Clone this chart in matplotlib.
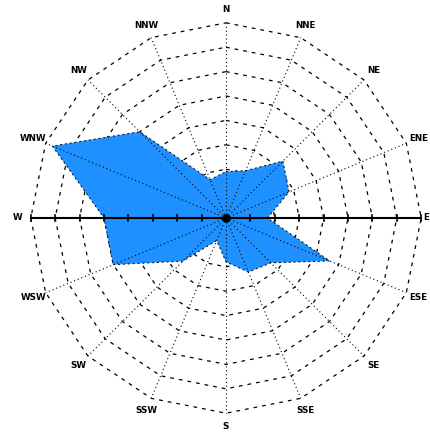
import numpy as np
import matplotlib
matplotlib.use("Agg")
import matplotlib.pyplot as plt

# ~~~~~~~~ data ~~~~~~~~
directions = ["N", "NNE", "NE", "ENE", "E", "ESE", "SE", "SSE",
              "S", "SSW", "SW", "WSW", "W", "WNW", "NW", "NNW"]
# in ring units (8 rings)
frequency = [1.9, 2.1, 3.3, 2.8, 1.7, 4.6, 2.6, 2.4,
             1.8, 1.0, 2.5, 5.0, 5.0, 7.7, 5.0, 1.7]
rings = [1, 2, 3, 4, 5, 6, 7, 8]

# ~~~~~~~~ figure ~~~~~~~~
fig = plt.figure(figsize=(4.30, 4.37), dpi=100)
ax = fig.add_axes([0, 0, 1, 1])
xmax = 8.361
ax.set_xlim(-9.262, xmax)
ax.set_ylim(-8.975, 8.934)
ax.axis("off")

bearing = np.deg2rad(np.arange(len(directions)) * 360.0 / len(directions))
sx, sy = np.sin(bearing), np.cos(bearing)


def closed(v):
    return np.append(v, v[0])


# polygon rings
for r in rings:
    ax.plot(closed(r * sx), closed(r * sy), color="k", lw=0.9,
            ls=(0, (3, 4)), zorder=1)

# the rose itself
f = np.array(frequency)
ax.fill(f * sx, f * sy, color="#1E90FF", lw=0, zorder=2)
ax.plot(closed(f * sx), closed(f * sy), color="k", lw=0.7,
        ls=(0, (2, 3)), zorder=3)

# spokes
rmax = rings[-1]
for i, d in enumerate(directions):
    if d in ("E", "W"):
        continue
    ax.plot([0, rmax * sx[i]], [0, rmax * sy[i]], color="k", lw=0.8,
            ls=(0, (1, 2.5)), zorder=3)

# solid W-E axis with ticks on each ring
ax.plot([-rmax, rmax], [0, 0], color="k", lw=1.5, zorder=4)
for r in rings:
    for s in (-1, 1):
        ax.plot([s * r, s * r], [-0.13, 0.13], color="k", lw=1.2, zorder=4)
ax.plot(0, 0, "o", color="k", ms=5, zorder=5)

# direction labels
for i, d in enumerate(directions):
    x, y = 8.55 * sx[i], 8.55 * sy[i]
    ha = "center"
    if x > xmax - 0.4:
        # keep the right-hand labels inside the frame
        x, ha = xmax - 0.03, "right"
    ax.text(x, y, d, ha=ha, va="center", fontsize=6.3, fontweight="bold")

fig.savefig("out.png", dpi=100)
